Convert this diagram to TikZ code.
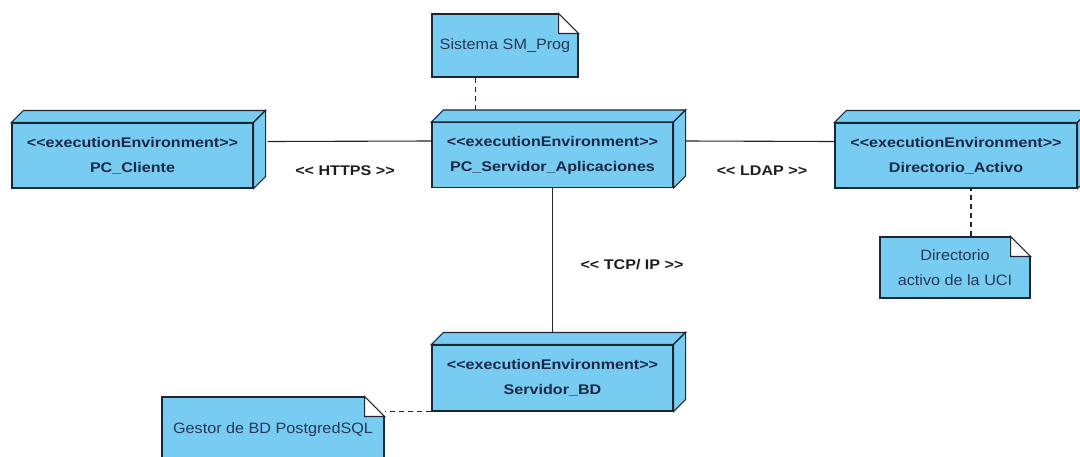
\documentclass[tikz,border=0pt]{standalone}
\usepackage{fontspec}
\newfontfamily\bfont[FakeStretch=1.15]{Liberation Sans}
\newfontfamily\rfont[FakeStretch=1.08]{Liberation Sans}
\definecolor{nodeblue}{RGB}{120,204,242}
\definecolor{edgecol}{RGB}{30,38,52}
\definecolor{nodetext}{RGB}{28,40,70}
\definecolor{notetext}{RGB}{40,55,85}
\definecolor{labeltext}{RGB}{30,30,30}
\newcommand\cubefaces[1]{%
  \filldraw[face] (#1.north west) -- ++(12,-12) -- ([xshift=12pt,yshift=12pt]#1.north east) -- (#1.north east) -- cycle;
  \filldraw[face] (#1.north east) -- ++(12,-12) -- ([xshift=12pt,yshift=12pt]#1.south east) -- (#1.south east) -- cycle;
}
\newcommand\notefold[1]{%
  \fill[white] ([xshift=-20pt,yshift=1pt]#1.north east) rectangle ([xshift=1pt,yshift=-20pt]#1.north east);
  \draw[face,fill=white] ([xshift=-20pt]#1.north east) -- ([xshift=-20pt,yshift=-20pt]#1.north east) -- ([yshift=-20pt]#1.north east) -- cycle;
}
\begin{document}
\begin{tikzpicture}[x=1pt,y=-1pt,
  line width=1.1pt, line join=miter,
  face/.style={draw=edgecol, fill=nodeblue, line width=1.1pt},
  envbox/.style={draw=edgecol, fill=nodeblue, line width=1.1pt, minimum width=241pt, minimum height=65pt,
    inner sep=0pt, align=center, text=nodetext, font=\bfont\bfseries\fontsize{14}{25}\selectfont},
  notebox/.style={draw=edgecol, fill=nodeblue, line width=1.1pt, inner sep=0pt, align=center,
    text=notetext, font=\rfont\fontsize{15}{25}\selectfont},
  conn/.style={draw=edgecol, line width=1.1pt},
  dep/.style={draw=edgecol, line width=1.1pt, dash pattern=on 5pt off 4pt},
  lbl/.style={text=labeltext, font=\bfont\bfseries\fontsize{14}{16}\selectfont, inner sep=0pt}
]
\useasboundingbox (0,0) rectangle (1080,456);
\clip (0,0) rectangle (1080,456);
\fill[white] (0,0) rectangle (1080,456);

% execution environments
\node[envbox] (pcc) at (132.5,155.5) {<<executionEnvironment>>\\PC\_Cliente};
\cubefaces{pcc}
\node[envbox] (pcsa) at (552.5,155) {<<executionEnvironment>>\\PC\_Servidor\_Aplicaciones};
\cubefaces{pcsa}
\node[envbox, minimum width=242pt] (da) at (956,155.5) {<<executionEnvironment>>\\Directorio\_Activo};
\cubefaces{da}
\node[envbox, minimum height=66pt] (sbd) at (552.5,378) {<<executionEnvironment>>\\Servidor\_BD};
\cubefaces{sbd}

% notes
\node[notebox, minimum width=146pt, minimum height=63pt] (n1) at (505,45.5) {\raisebox{-3pt}{Sistema SM\_Prog}};
\notefold{n1}
\node[notebox, minimum width=150pt, minimum height=61pt] (n2) at (955,267.5) {Directorio\\activo de la UCI};
\notefold{n2}
\node[notebox, minimum width=222pt, minimum height=66pt] (n3) at (273,430) {Gestor de BD PostgredSQL};
\notefold{n3}

% connectors
\coordinate (pccR) at ([xshift=14pt,yshift=14pt]pcc.east);
\coordinate (pcsaL) at ([yshift=14pt]pcsa.west);
\coordinate (pcsaR) at ([xshift=12pt,yshift=14pt]pcsa.east);
\coordinate (daL) at ([yshift=14pt]da.west);
\coordinate (sbdT) at ([yshift=12pt]sbd.north);
\draw[conn] (pccR) -- (pcsaL);
\draw[conn] (pcsaR) -- (daL);
\draw[conn] (pcsa.south) -- (sbdT);

\node[lbl] (l1) at (345,171) {<< HTTPS >>};
\node[lbl] (l2) at (762,171) {<< LDAP >>};
\node[lbl] (l3) at (632,265) {<< TCP/ IP >>};

% dependencies (dashed)
\coordinate (pcsaTop) at ([yshift=12pt]pcsa.north);
\coordinate (n1a) at ([xshift=44pt]n1.south west);
\draw[dep] (n1a) -- (n1a |- pcsaTop);
\coordinate (n2a) at ([xshift=16pt]n2.north);
\draw[dep] (n2a) -- (n2a |- da.south);
\draw[dep] (sbd.south west) -- (sbd.south west -| n3.east);
\end{tikzpicture}
\end{document}
